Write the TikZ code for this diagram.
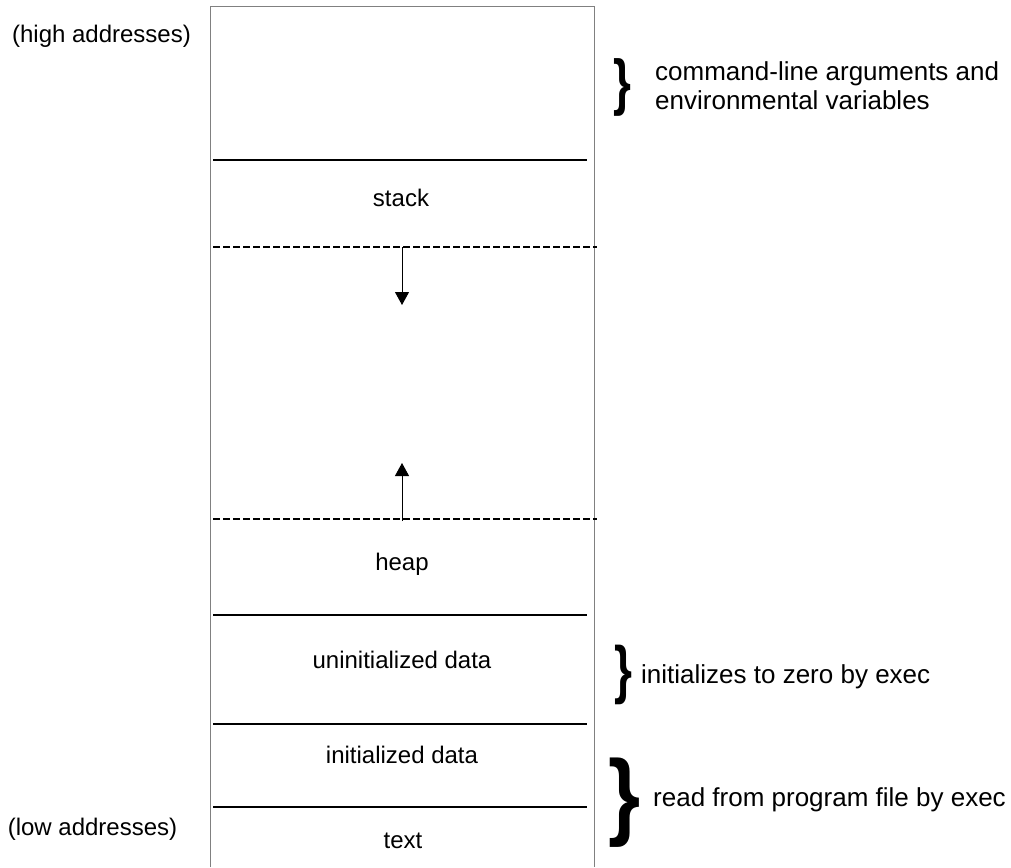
\documentclass[tikz,border=0pt]{standalone}
\usepackage{fontspec}
\usepackage{graphicx}
\setmainfont{Liberation Sans}
\usetikzlibrary{arrows.meta}
\begin{document}
\begin{tikzpicture}[x=1pt,y=-1pt,
  lbl/.style={anchor=base, inner sep=0pt, font=\fontsize{24}{28}\selectfont},
  side/.style={anchor=base west, inner sep=0pt, font=\fontsize{26}{30}\selectfont},
  divider/.style={line width=2pt},
  gapline/.style={line width=2pt, dash pattern=on 7pt off 3pt},
  growarrow/.style={line width=1pt, -{Triangle[width=14pt,length=13pt]}},
  brc/.style={inner sep=0pt, anchor=center}
]
\useasboundingbox (0,0) rectangle (1011,867);
% memory box (open at the bottom)
\draw[gray, line width=1pt] (210,867) -- (210,6.5) -- (594,6.5) -- (594,867);
% dividers
\draw[divider] (213,160) -- (587,160);
\draw[divider] (213,615) -- (587,615);
\draw[divider] (213,724) -- (587,724);
\draw[divider] (213,807) -- (587,807);
\draw[gapline] (213,247) -- (597,247);
\draw[gapline] (213,519) -- (597,519);
% growth arrows
\coordinate (sfrom) at (402,247);
\coordinate (sto) at (402,305);
\coordinate (hfrom) at (402,521);
\coordinate (hto) at (402,463);
\draw[growarrow] (sfrom) -- (sto);
\draw[growarrow] (hfrom) -- (hto);
% segment labels
\node[lbl] (stack) at (401,206.5) {stack};
\node[lbl] (heap) at (402,570.5) {heap};
\node[lbl] (bss) at (402,668) {uninitialized data};
\node[lbl] (data) at (402,763) {initialized data};
\node[lbl] (text) at (403,848.5) {text};
% address labels
\node[lbl] (high) at (101.5,43) {(high addresses)};
\node[lbl] (low) at (92.5,835.5) {(low addresses)};
% braces
\node[brc, font=\bfseries\fontsize{62}{62}\selectfont] (b1) at (622.5,87) {\scalebox{0.74}[1]{\}}};
\node[brc, font=\bfseries\fontsize{64}{64}\selectfont] (b2) at (623,675) {\scalebox{0.72}[1]{\}}};
\node[brc, font=\bfseries\fontsize{96}{96}\selectfont] (b3) at (625,803) {\scalebox{0.86}[1]{\}}};
% side notes
\node[side] (cmd1) at (655,80) {command-line arguments and};
\node[side] (cmd2) at (655,109) {environmental variables};
\node[side] (zero) at (641,683.5) {initializes to zero by exec};
\node[side] (prog) at (653,806) {read from program file by exec};
\end{tikzpicture}
\end{document}
